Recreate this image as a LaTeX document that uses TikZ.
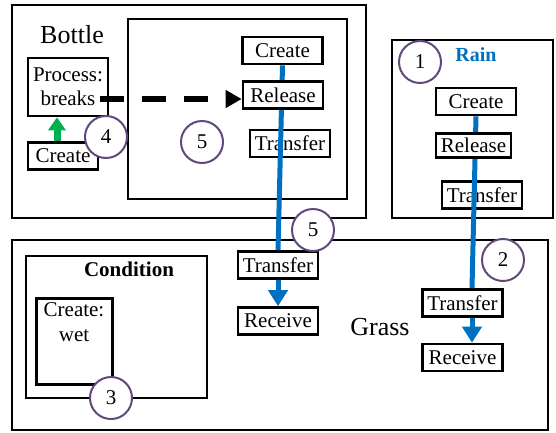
\documentclass[tikz,border=0pt]{standalone}
\usepackage{fontspec}
\setmainfont{Liberation Serif}
\usetikzlibrary{arrows.meta}
\definecolor{flowblue}{RGB}{0,112,192}
\definecolor{markgreen}{RGB}{0,176,80}
\definecolor{markpurple}{RGB}{96,73,122}
\tikzset{
  stepbox/.style={draw,line width=2.6pt,fill=white,minimum width=80pt,minimum height=27pt,inner sep=2pt,font=\fontsize{21}{24}\selectfont},
  frame/.style={draw,line width=1.8pt},
  num/.style={circle,draw=markpurple,line width=2pt,fill=white,minimum size=42pt,inner sep=0pt,font=\fontsize{21}{24}\selectfont},
  flow/.style={draw=flowblue,line width=5pt},
  bigtext/.style={font=\fontsize{26}{28}\selectfont}
}

\begin{document}
\begin{tikzpicture}[x=1pt,y=-1pt]
\useasboundingbox (0,0) rectangle (556,432);
% frames
\draw[frame] (12,5) rectangle (366,218);
\draw[frame] (128,19) rectangle (347,199);
\draw[frame] (392,40) rectangle (553,218);
\draw[frame] (12,240) rectangle (548,430);
\draw[frame] (26,256) rectangle (207,398);
% labels
\node[bigtext] (bottleL) at (72,35) {Bottle};
\node[font=\bfseries\fontsize{20}{24}\selectfont,text=flowblue] (rainL) at (476,55) {Rain};
\node[font=\bfseries\fontsize{21}{24}\selectfont] (condL) at (129,269) {Condition};
\node[bigtext] (grassL) at (380,327) {Grass};
% bottle
\node[stepbox,minimum height=58pt,align=center] (processB) at (68,87) {Process:\\breaks};
\node[stepbox,minimum width=70pt] (createL) at (63,156) {Create};
\node[stepbox] (createB) at (282.5,50.5) {Create};
\node[stepbox] (transferB) at (290,143.5) {Transfer};
% rain
\node[stepbox] (createR) at (476,101.5) {Create};
\node[stepbox] (transferR) at (482,195) {Transfer};
% grass
\node[stepbox] (transferG) at (278,265) {Transfer};
\node[stepbox] (receiveG) at (278,321) {Receive};
\node[stepbox] (transferH) at (462.5,303) {Transfer};
\node[stepbox] (receiveH) at (462.5,357.5) {Receive};
\node[draw,line width=3pt,minimum width=76pt,minimum height=86pt] (wetB) at (74,341) {};
\node[font=\fontsize{21}{25}\selectfont,align=center,anchor=north] (wetT) at ([yshift=-3pt]wetB.north) {Create:\\wet};
% flows
\draw[flow] (createB.south) -- (transferG.north);
\draw[flow] (createR.south) -- ([xshift=9.5pt]transferH.north);
\draw[flow,-{Triangle[width=19pt,length=16pt]}] (transferG.south) -- (receiveG.north);
\draw[flow,-{Triangle[width=19pt,length=16pt]}] ([xshift=9.5pt]transferH.south) -- ([xshift=9.5pt]receiveH.north);
\node[stepbox] (releaseB) at (283,95) {Release};
\node[stepbox,minimum width=75pt,minimum height=24pt] (releaseR) at (473.5,145.5) {Release};
\draw[line width=6pt,dash pattern=on 24pt off 18pt,-{Triangle[width=17pt,length=16pt]}] ([xshift=-9pt,yshift=-4pt]processB.east |- releaseB.west) -- ([yshift=-4pt]releaseB.west);
\draw[markgreen,line width=7pt,-{Triangle[width=17pt,length=13pt]}] ([xshift=-6pt]createL.north) -- ([xshift=-6pt]createL.north |- processB.south);
% numbers
\node[num] (n1) at (420,62) {1};
\node[num] (n2) at (503,260) {2};
\node[num] (n3) at (111,398) {3};
\node[num] (n4) at (106,137) {4};
\node[num] (n5) at (202,142) {5};
\node[num] (n6) at (313,230) {5};
\end{tikzpicture}
\end{document}
